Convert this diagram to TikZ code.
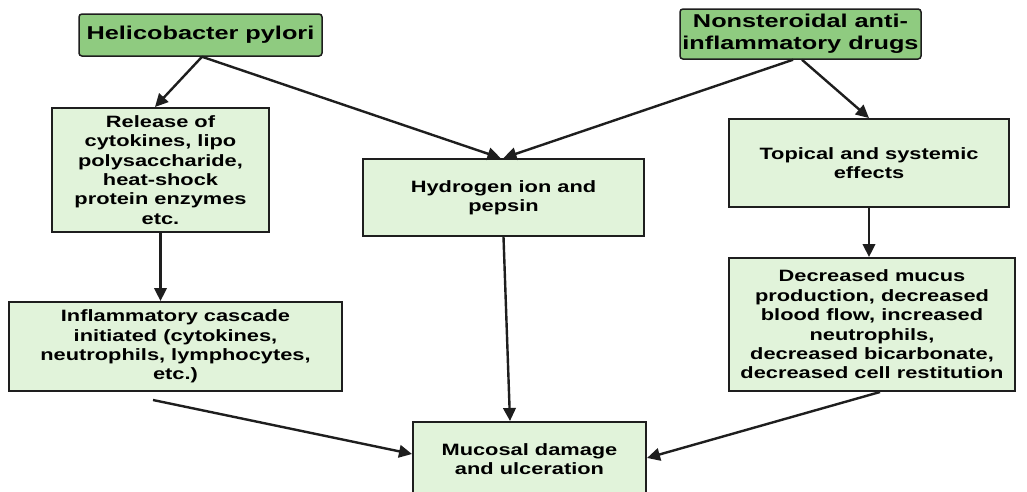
\documentclass[tikz,border=0pt]{standalone}
\usepackage{fontspec}
\newfontfamily\diafont[FakeStretch=1.33]{Liberation Sans}
\newfontfamily\titlefont[FakeStretch=1.36]{Liberation Sans}
\usetikzlibrary{arrows.meta,calc}
\definecolor{titlegreen}{HTML}{8FCB80}
\definecolor{boxgreen}{HTML}{E1F3DA}
\definecolor{linec}{HTML}{1E1E1E}
\begin{document}
\begin{tikzpicture}[x=1pt,y=-1pt,
  titlebox/.style={draw=linec,line width=1.5pt,fill=titlegreen,rounded corners=3pt,
    inner sep=0pt,align=center,font=\titlefont\bfseries\fontsize{18.6}{21.7}\selectfont},
  infobox/.style={draw=linec,line width=2pt,fill=boxgreen,inner sep=0pt,align=center,
    font=\diafont\bfseries\fontsize{16.4}{19.4}\selectfont},
  arr/.style={draw=linec,line width=2.4pt,-{Triangle[length=13pt,width=12.5pt]}}]
\useasboundingbox (0,0) rectangle (1027,491);
\fill[white] (0,0) rectangle (1027,491);

\node[titlebox,minimum width=243pt,minimum height=42pt] (hp) at (200.5,35) {Helicobacter pylori};
\node[titlebox,minimum width=241pt,minimum height=50pt] (ns) at (800.5,34) {Nonsteroidal anti-\\inflammatory drugs};

\node[infobox,minimum width=217pt,minimum height=124pt] (rel) at (160.5,170)
  {Release of\\cytokines, lipo\\polysaccharide,\\heat-shock\\protein enzymes\\etc.};
\node[infobox,minimum width=281pt,minimum height=77pt] (hyd) at (503.5,197.5)
  {Hydrogen ion and\\pepsin};
\node[infobox,minimum width=280pt,minimum height=88pt] (top) at (869,163)
  {Topical and systemic\\effects};
\node[infobox,minimum width=333pt,minimum height=89pt] (inf) at (175.5,346.5)
  {Inflammatory cascade\\initiated (cytokines,\\neutrophils, lymphocytes,\\etc.)};
\node[infobox,minimum width=286pt,minimum height=133pt] (dec) at (872,324.5)
  {Decreased mucus\\production, decreased\\blood flow, increased\\neutrophils,\\decreased bicarbonate,\\decreased cell restitution};
\node[infobox,minimum width=233pt,minimum height=74pt] (muc) at (529.5,459)
  {Mucosal damage\\and ulceration};

\coordinate (infout) at ([xshift=-22.5pt,yshift=-8pt]inf.south);

\draw[arr] ([xshift=1.5pt]hp.south) -- ([xshift=-5.5pt]rel.north);
\draw[arr] ([xshift=1.5pt]hp.south) -- ([xshift=-3pt]hyd.north);
\draw[arr] ([xshift=-7.5pt]ns.south) -- ([xshift=0pt]hyd.north);
\draw[arr] ([xshift=1.5pt]ns.south) -- (top.north);
\draw[arr] (rel.south) -- (rel.south |- inf.north);
\draw[arr] (hyd.south) -- ([xshift=-19.5pt]muc.north);
\draw[arr] (top.south) -- (top.south |- dec.north);
\draw[arr] (infout) -- ([yshift=5pt]muc.west);
\draw[arr] ([xshift=8pt]dec.south) -- ([yshift=1pt]muc.east);
\end{tikzpicture}
\end{document}
